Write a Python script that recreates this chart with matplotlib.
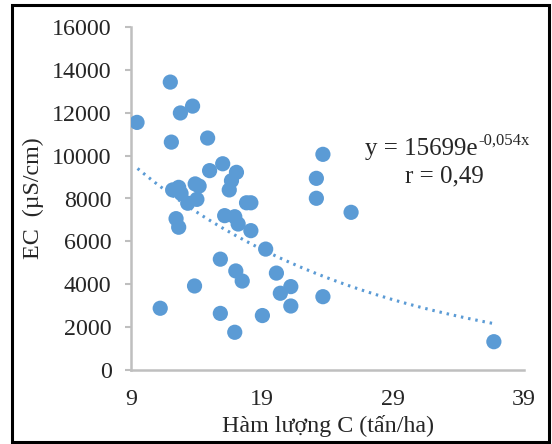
import matplotlib
matplotlib.use("Agg")
import matplotlib.pyplot as plt
import numpy as np
from matplotlib.patches import Rectangle

plt.rcParams['font.family'] = ['Liberation Serif', 'DejaVu Serif']

carbon = [9.46, 12.0, 12.77, 13.7, 12.08, 14.85, 16.0, 17.05, 15.0, 16.67,
          16.5, 13.9, 14.2, 12.18, 12.64, 12.82, 13.33, 14.03, 17.82, 18.15,
          12.44, 12.64, 16.15, 16.92, 17.18, 18.15, 19.28, 15.82, 17.0, 17.49,
          20.1, 20.4, 13.85, 11.23, 15.82, 19.03, 16.92, 23.65, 23.15, 23.15,
          25.8, 21.2, 21.2, 23.65, 36.7]
ec = [11550, 13430, 11990, 12310, 10630, 10820, 9620, 9220, 9300, 8830,
      8400, 8680, 8580, 8400, 8520, 8240, 7780, 7960, 7800, 7800,
      7060, 6660, 7200, 7150, 6810, 6500, 5640, 5170, 4620, 4150,
      4520, 3580, 3920, 2880, 2640, 2540, 1760, 10060, 8940, 8010,
      7355, 3890, 2985, 3420, 1320]
fit_a = 15699
fit_b = -0.054
trend_x_range = [9.5, 36.6]

W, H = 552, 444
def px(x, y):
    return x / W, 1 - y / H

fig = plt.figure(figsize=(W/100, H/100), dpi=100)
ax = fig.add_axes([131/W, 1-370/H, (524-131)/W, (370-27)/H])

blue = '#5B9BD5'
grey = '#BFBFBF'
txt = '#262626'
fs = 17.3
ax.scatter(carbon, ec, s=120, color=blue, edgecolors='none', zorder=3)
tx = np.linspace(trend_x_range[0], trend_x_range[1], 200)
ax.plot(tx, fit_a*np.exp(fit_b*tx), color=blue, lw=2.2, ls=(0, (0.8, 1.6)), zorder=2)

ax.set_xlim(9, 39)
ax.set_ylim(0, 16000)
ax.set_xticks([9, 19, 29, 39])
ax.set_yticks(range(0, 16001, 2000))
for s in ['top', 'right']:
    ax.spines[s].set_visible(False)
for s in ['left', 'bottom']:
    ax.spines[s].set_color(grey)
    ax.spines[s].set_linewidth(1.8)
ax.tick_params(axis='y', length=4, width=1.5, color=grey, pad=10, labelsize=fs, labelcolor=txt)
ax.tick_params(axis='x', length=0, pad=14, labelsize=fs, labelcolor=txt)

ax.set_xlabel('Hàm lượng C (tấn/ha)', fontsize=fs, color=txt, labelpad=3)
ax.set_ylabel('EC  (µS/cm)', fontsize=fs, color=txt, labelpad=6)

# trendline equation
fig.text(*px(478, 155), 'y = 15699e', fontsize=18, ha='right', va='baseline', color=txt)
fig.text(*px(478, 145), '-0,054x', fontsize=12, ha='left', va='baseline', color=txt)
fig.text(*px(444, 182), 'r = 0,49', fontsize=18, ha='center', va='baseline', color=txt)

fig.patches.append(Rectangle(px(12, 442), (549-12)/W, (442-5)/H,
                             transform=fig.transFigure, fill=False,
                             edgecolor='black', linewidth=2.2, zorder=10))
fig.savefig('out.png', dpi=100)
